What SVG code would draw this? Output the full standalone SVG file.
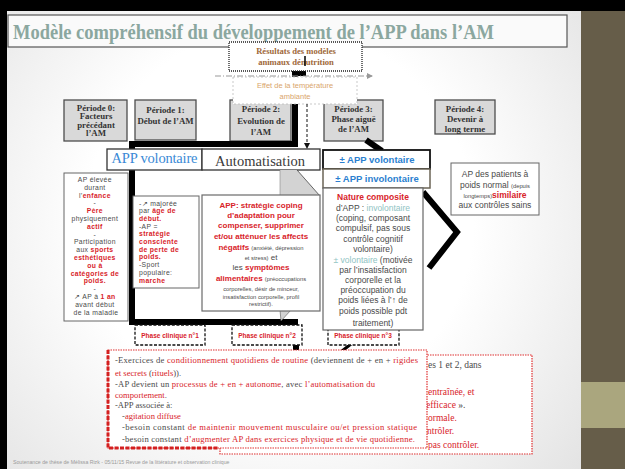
<svg xmlns="http://www.w3.org/2000/svg" width="625" height="469" viewBox="0 0 625 469">
<defs>
<radialGradient id="bg" cx="280" cy="220" r="430" gradientUnits="userSpaceOnUse">
<stop offset="0.45" stop-color="#ffffff"/>
<stop offset="1" stop-color="#dedede"/>
</radialGradient>
<marker id="ag" markerWidth="6" markerHeight="6" refX="5" refY="3" orient="auto" markerUnits="userSpaceOnUse">
<path d="M0,0 L6,3 L0,6 Z" fill="#999"/>
</marker>
<marker id="ab" markerWidth="6" markerHeight="6" refX="5" refY="3" orient="auto" markerUnits="userSpaceOnUse">
<path d="M0,0 L6,3 L0,6 Z" fill="#111"/>
</marker>
</defs>
<style>
.sr { font-family: "Liberation Serif", "Times New Roman", serif; }
.ss { font-family: "Liberation Sans", Arial, sans-serif; }
.red { fill: #d8232a; }
.gr { fill: #4a4a4a; }
.tl { fill: #8fc3c3; }
.b { font-weight: bold; }
.per { fill: #d9d9d9; stroke: #4d4d4d; stroke-width: 1.3; }
.pt { font-family: "Liberation Serif", serif; font-weight: bold; fill: #333; text-anchor: middle; font-size: 8.8px; }
.box { fill: #fff; stroke: #666; stroke-width: 1; }
.pc { fill: #fff; stroke: #111; stroke-width: 1.3; stroke-dasharray: 3 1.6; }
.pct { font-family: "Liberation Sans", Arial, sans-serif; font-weight: bold; font-size: 6.5px; fill: #d8232a; text-anchor: middle; }
.thick { fill: none; stroke: #000; stroke-width: 6; }
.mid { text-anchor: middle; }
.s7 { font-size: 6.8px; letter-spacing: 0.35px; }
.s8 { font-size: 8px; }
.s85 { font-size: 8.5px; }
.sm { font-size: 5.8px; }
.bt { font-family: "Liberation Serif", serif; font-size: 8.6px; }
.bk { font-family: "Liberation Serif", serif; font-size: 9.5px; }
</style>

<!-- slide background -->
<rect x="0" y="0" width="625" height="469" fill="url(#bg)"/>
<rect x="0" y="0" width="625" height="11" fill="#000"/>
<rect x="0" y="0" width="7" height="469" fill="#000"/>
<rect x="581" y="11" width="44" height="458" fill="#665d49"/>
<rect x="581" y="382" width="44" height="46" fill="#aaa67e"/>

<!-- title -->
<g id="title">
<rect x="8" y="15" width="559" height="32" fill="#fafafa" stroke="#555" stroke-width="1.2"/>
<text x="13" y="38.5" class="sr b" font-size="21" fill="#8ba79f" textLength="481" lengthAdjust="spacingAndGlyphs">Modèle compréhensif du développement de l’APP dans l’AM</text>
</g>

<!-- period boxes -->
<g id="periode0">
<rect class="per" x="64" y="100" width="63" height="41"/>
<text class="pt" x="96" y="110.5" font-size="10.5">Période 0:</text>
<text class="pt" x="96" y="119">Facteurs</text>
<text class="pt" x="96" y="127.5">précédant</text>
<text class="pt" x="96" y="136">l’AM</text>
</g>
<g id="periode1">
<rect class="per" x="135" y="100" width="61" height="40"/>
<text class="pt" x="165.5" y="113" font-size="9.2">Période 1:</text>
<text class="pt" x="165.5" y="124">Début de l’AM</text>
</g>
<g id="periode2">
<rect class="per" x="230" y="100" width="61" height="41"/>
<text class="pt" x="261" y="112" font-size="9.2">Période 2:</text>
<text class="pt" x="261" y="124">Evolution de</text>
<text class="pt" x="261" y="135">l’AM</text>
</g>
<g id="periode3">
<rect class="per" x="324" y="100" width="59" height="41"/>
<text class="pt" x="353.5" y="112" font-size="9.2">Période 3:</text>
<text class="pt" x="353.5" y="122">Phase aiguë</text>
<text class="pt" x="353.5" y="132">de l’AM</text>
</g>
<g id="periode4">
<rect class="per" x="435" y="100" width="60" height="34"/>
<text class="pt" x="465" y="112" font-size="9.2">Période 4:</text>
<text class="pt" x="465" y="122">Devenir à</text>
<text class="pt" x="465" y="132">long terme</text>
</g>

<!-- connectors -->
<g id="connectors">
<path class="thick" d="M295,71 V144 H132 V322 H298"/>
<line x1="305" y1="56" x2="305" y2="72" stroke="#000" stroke-width="1.5"/>
<rect x="293" y="71" width="13" height="5" fill="#000"/>
<line x1="366" y1="140" x2="382" y2="151" stroke="#000" stroke-width="6"/>
<polyline points="423,192 457,232 429,268" fill="none" stroke="#000" stroke-width="6"/>
<path d="M215,76 H372" stroke="#999" stroke-width="1" stroke-dasharray="6 2 1 2" marker-end="url(#ag)"/>
<rect x="293" y="344" width="6" height="6" fill="#000"/>
<line x1="351" y1="344" x2="342" y2="351" stroke="#000" stroke-width="3"/>
</g>

<!-- top boxes -->
<g id="resultats">
<rect x="229" y="42" width="133" height="29" fill="#fff" stroke="#222" stroke-width="1.3" stroke-dasharray="1 1"/>
<text x="296" y="54" class="sr b mid" font-size="8.6" fill="#a0683a">Résultats des modèles</text>
<text x="296" y="65" class="sr b mid" font-size="8.6" fill="#a0683a">animaux dénutrition</text>
<line x1="305" y1="56" x2="305" y2="66" stroke="#000" stroke-width="1.5"/>
</g>
<g id="effet">
<rect x="233" y="77" width="124" height="27" fill="#fff" stroke="#bbb" stroke-width="0.8" stroke-dasharray="2 2"/>
<text x="295" y="88" class="ss mid" font-size="7.5" fill="#d9a56b">Effet de la température</text>
<text x="295" y="99" class="ss mid" font-size="7.5" fill="#d9a56b">ambiante</text>
</g>
<path d="M307,104 V148" stroke="#111" stroke-width="1" stroke-dasharray="3 2" marker-end="url(#ab)"/>

<!-- APP volontaire / Automatisation -->
<g id="app-volontaire">
<rect x="107" y="149" width="95" height="21" fill="#fff" stroke="#333" stroke-width="1.3"/>
<text x="154.5" y="163" class="sr mid" font-size="14.5" fill="#3a8ad6" textLength="86">APP volontaire</text>
</g>
<g id="automatisation">
<rect x="202" y="149" width="118" height="21" fill="#fff" stroke="#333" stroke-width="1.3"/>
<text x="260" y="166" class="sr mid" font-size="14.5" fill="#3a3a3a" textLength="90">Automatisation</text>
</g>

<!-- plus/minus APP -->
<g id="pm-volontaire">
<rect x="323" y="150" width="107" height="19" fill="#fff" stroke="#111" stroke-width="1.8"/>
<text x="377" y="163" class="ss b mid" font-size="9.5" fill="#2b7fd0">± APP volontaire</text>
</g>
<g id="pm-involontaire">
<rect x="323" y="169" width="107" height="19" fill="#fff" stroke="#6b6456" stroke-width="1.5"/>
<text x="377" y="182" class="ss b mid" font-size="9.5" fill="#2b7fd0">± APP involontaire</text>
</g>

<!-- left box -->
<g id="facteurs">
<rect class="box" x="64" y="173" width="64" height="148"/>
<text class="ss s7 mid gr">
<tspan x="96" y="182">AP élevée</tspan>
<tspan x="96" y="189.8">durant</tspan>
<tspan x="96" y="197.6">l’<tspan class="red b">enfance</tspan></tspan>
<tspan x="96" y="205.4">-</tspan>
<tspan x="96" y="213.2" class="red b">Père</tspan>
<tspan x="96" y="221">physiquement</tspan>
<tspan x="96" y="228.8" class="red b">actif</tspan>
<tspan x="96" y="236.6">-</tspan>
<tspan x="96" y="244.4">Participation</tspan>
<tspan x="96" y="252.2">aux <tspan class="red b">sports</tspan></tspan>
<tspan x="96" y="260" class="red b">esthétiques</tspan>
<tspan x="96" y="267.8" class="red b">ou à</tspan>
<tspan x="96" y="275.6" class="red b">catégories de</tspan>
<tspan x="96" y="283.4" class="red b">poids.</tspan>
<tspan x="96" y="291.2">-</tspan>
<tspan x="96" y="299">↗ AP à <tspan class="red b">1 an</tspan></tspan>
<tspan x="96" y="306.8">avant début</tspan>
<tspan x="96" y="314.6">de la maladie</tspan>
</text>
</g>

<!-- majoree box -->
<g id="majoree">
<rect class="box" x="133" y="196" width="66" height="92"/>
<text class="ss s7 gr">
<tspan x="139" y="205.5">-↗ majorée</tspan>
<tspan x="139" y="213.2">par <tspan class="red b">âge de</tspan></tspan>
<tspan x="139" y="220.9" class="red b">début.</tspan>
<tspan x="139" y="228.6">-AP =</tspan>
<tspan x="139" y="236.3" class="red b">stratégie</tspan>
<tspan x="139" y="244" class="red b">consciente</tspan>
<tspan x="139" y="251.7" class="red b">de perte de</tspan>
<tspan x="139" y="259.4" class="red b">poids.</tspan>
<tspan x="139" y="267.1">-Sport</tspan>
<tspan x="139" y="274.8">populaire:</tspan>
<tspan x="139" y="282.5" class="red b">marche</tspan>
</text>
</g>

<!-- coping callout -->
<g id="coping" class="ss">
<polygon points="280,170 297,170 320,196 280,196" fill="#d3d3d3"/>
<line x1="297" y1="170" x2="320" y2="196" stroke="#444" stroke-width="0.8"/>
<line x1="280" y1="170" x2="280" y2="196" stroke="#888" stroke-width="0.6"/>
<polygon points="280,310 291,310 281,321" fill="#d3d3d3" stroke="#555" stroke-width="0.6"/>
<rect x="202" y="195" width="118" height="116" fill="#fff" stroke="#6a6a6a" stroke-width="1.2"/>
<text x="261" y="208" class="mid red b s8">APP: stratégie coping</text>
<text x="261" y="218" class="mid red b s8">d’adaptation pour</text>
<text x="261" y="228" class="mid red b s8">compenser, supprimer</text>
<text x="261" y="239" class="mid red b s8">et/ou atténuer les affects</text>
<text x="261" y="250" class="mid s8"><tspan class="red b">négatifs</tspan> <tspan class="gr sm">(anxiété, dépression</tspan></text>
<text x="261" y="260" class="mid s8 gr"><tspan class="sm">et stress)</tspan> et</text>
<text x="261" y="270" class="mid s8 gr">les <tspan class="red b">symptômes</tspan></text>
<text x="261" y="281" class="mid s8"><tspan class="red b">alimentaires</tspan> <tspan class="gr sm">(préoccupations</tspan></text>
<text x="261" y="291" class="mid gr sm">corporelles, désir de minceur,</text>
<text x="261" y="298.5" class="mid gr sm">insatisfaction corporelle, profil</text>
<text x="261" y="306" class="mid gr sm">restrictif).</text>
</g>

<!-- phase clinique boxes -->
<g id="phase1">
<rect class="pc" x="135" y="325" width="70" height="20"/>
<text class="pct" x="170" y="338">Phase clinique n°1</text>
</g>
<g id="phase2">
<rect class="pc" x="232" y="325" width="70" height="20"/>
<text class="pct" x="267" y="338">Phase clinique n°2</text>
</g>
<g id="phase3">
<rect class="pc" x="328" y="326" width="71" height="19"/>
<text class="pct" x="363" y="337.5">Phase clinique n°3</text>
</g>

<!-- nature composite -->
<g id="nature" class="ss s85">
<rect x="323" y="188" width="100" height="142" fill="#fff" stroke="#666" stroke-width="1.2"/>
<text x="373" y="200" class="mid red b">Nature composite</text>
<text x="373" y="211" class="mid gr">d’APP : <tspan class="tl">involontaire</tspan></text>
<text x="373" y="221" class="mid gr">(coping, composant</text>
<text x="373" y="231" class="mid gr">compulsif, pas sous</text>
<text x="373" y="242" class="mid gr">contrôle cognitif</text>
<text x="373" y="252" class="mid gr">volontaire)</text>
<text x="373" y="263" class="mid gr"><tspan class="tl">± volontaire</tspan> (motivée</text>
<text x="373" y="273" class="mid gr">par l’insatisfaction</text>
<text x="373" y="283" class="mid gr">corporelle et la</text>
<text x="373" y="293" class="mid gr">préoccupation du</text>
<text x="373" y="303" class="mid gr">poids liées à l’↑ de</text>
<text x="373" y="314" class="mid gr">poids possible pdt</text>
<text x="373" y="326" class="mid gr">traitement)</text>
</g>

<!-- right box -->
<g id="patients" class="ss s85">
<rect x="451" y="163" width="88" height="52" fill="#fff" stroke="#666" stroke-width="1"/>
<text x="495" y="177" class="mid gr">AP des patients à</text>
<text x="495" y="188" class="mid gr">poids normal <tspan class="sm">(depuis</tspan></text>
<text x="495" y="198" class="mid gr"><tspan class="sm">longtemps)</tspan><tspan class="red b">similaire</tspan></text>
<text x="495" y="208" class="mid gr">aux contrôles sains</text>
</g>

<!-- back red box -->
<g id="back-box" class="bk">
<rect x="220" y="355" width="312" height="99" fill="#fff" stroke="#e03030" stroke-width="1.2" stroke-dasharray="1.5 1"/>
<text x="428" y="368" class="gr">es 1 et 2, dans</text>
<text x="428" y="395" class="red">entraînée, et</text>
<text x="426" y="408" class="gr"><tspan class="red">efficace</tspan> ».</text>
<text x="428" y="421" class="red">ormale.</text>
<text x="427" y="434" class="red">ntrôler.</text>
<text x="428" y="448" class="red">pas contrôler.</text>
</g>

<!-- front red box -->
<g id="front-box" class="bt">
<rect x="108" y="350" width="319" height="98" fill="#fff" stroke="#e03030" stroke-width="1.2" stroke-dasharray="1.5 1"/>
<path d="M108,350 V448 H218" fill="none" stroke="#d42020" stroke-width="3" stroke-dasharray="4 1.5"/>
<text x="115" y="363" class="gr" textLength="303">-Exercices de <tspan class="red">conditionnement quotidiens de routine</tspan> (deviennent de + en + <tspan class="red">rigides</tspan></text>
<text x="115" y="376" class="gr"><tspan class="red">et secrets</tspan> (<tspan class="red">rituels</tspan>)).</text>
<text x="115" y="387" class="gr" textLength="260">-AP devient un <tspan class="red">processus de + en + autonome</tspan>, avec <tspan class="red">l’automatisation du</tspan></text>
<text x="115" y="398" class="gr"><tspan class="red">comportement</tspan>.</text>
<text x="115" y="408" class="gr">-APP associée à:</text>
<text x="122" y="419" class="gr">-<tspan class="red">agitation diffuse</tspan></text>
<text x="122" y="430" class="gr" textLength="295">-besoin constant <tspan class="red">de maintenir mouvement musculaire ou/et pression statique</tspan></text>
<text x="122" y="442" class="gr" textLength="293">-besoin constant <tspan class="red">d’augmenter AP dans exercices physique et de vie quotidienne.</tspan></text>
</g>

<!-- footer -->
<text x="13" y="464" class="ss" font-size="5.2" fill="#9a9a9a">Soutenance de thèse de Mélissa Rizk - 05/11/15 Revue de la littérature et observation clinique</text>
</svg>
